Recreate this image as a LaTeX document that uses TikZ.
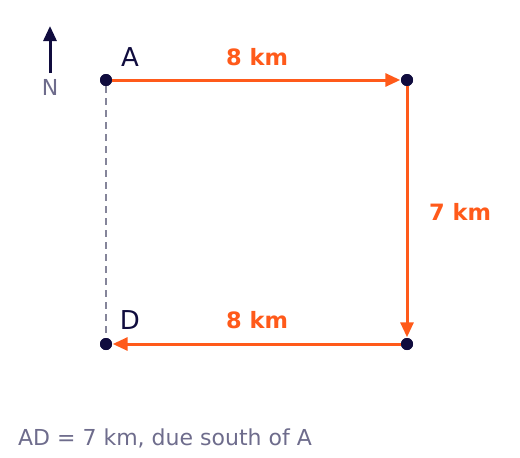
\documentclass[tikz,border=0pt]{standalone}
\usepackage{fontspec}
\setmainfont{DejaVu Sans}
\usetikzlibrary{arrows.meta}
\definecolor{navy}{HTML}{100C3E}
\definecolor{orng}{HTML}{FF5A1A}
\definecolor{dashgray}{HTML}{85859A}
\definecolor{txtgray}{HTML}{6E6C8C}
\tikzset{
  dot/.style={circle,fill=navy,inner sep=0pt,minimum size=12pt},
  leg/.style={draw=orng,line width=3pt,-{Triangle[length=15pt,width=13pt]},shorten >=0.5pt},
  dist/.style={text=orng,font=\fontsize{22.5}{27}\selectfont\bfseries},
  ptlabel/.style={text=navy,font=\fontsize{26}{30}\selectfont},
}
\begin{document}
\begin{tikzpicture}[x=1pt,y=-1pt]
\useasboundingbox (0,0) rectangle (520,458);
\coordinate (nS) at (50,73);
\coordinate (nN) at (50,26);
\draw[navy,line width=3pt,-{Triangle[length=15pt,width=13pt]}] (nS) -- (nN);
\node[text=txtgray,font=\fontsize{22}{26}\selectfont] (Nl) at (50,87) {N};
\node[dot] (A) at (106,80) {};
\node[dot] (B) at (407,80) {};
\node[dot] (C) at (407,344) {};
\node[dot] (D) at (106,344) {};
\draw[dashgray,line width=2.2pt,dash pattern=on 7pt off 5pt] (A) -- (D);
\draw[leg] (A) -- (B);
\draw[leg] (B) -- (C);
\draw[leg] (C) -- (D);
\node[dot] at (A) {};
\node[dot] at (B) {};
\node[dot] at (C) {};
\node[dot] at (D) {};
\node[ptlabel] (Al) at (130,57) {A};
\node[ptlabel] (Dl) at (130,320) {D};
\node[dist] (d1) at (257,57) {8 km};
\node[dist] (d2) at (460,212) {7 km};
\node[dist] (d3) at (257,320) {8 km};
\node[text=txtgray,font=\fontsize{22}{26}\selectfont,anchor=west,inner sep=0pt] (note) at (18,438) {AD = 7 km, due south of A};
\end{tikzpicture}
\end{document}
